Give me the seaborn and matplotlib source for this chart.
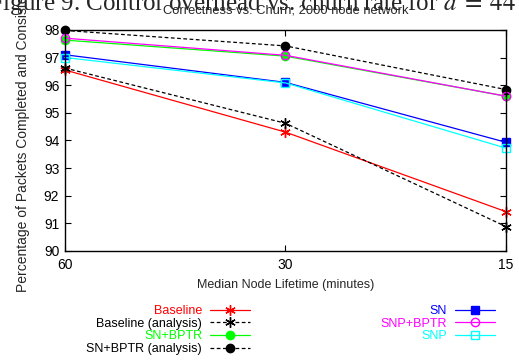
import matplotlib
matplotlib.use("Agg")
import matplotlib.pyplot as plt
import seaborn as sns
import pandas as pd

# data
lifetimes = ['60', '30', '15']

baseline = [96.55, 94.3, 91.42]
baseline_analysis = [96.62, 94.62, 90.88]
sn_bptr = [97.63, 97.05, 95.6]
sn_bptr_analysis = [97.98, 97.42, 95.84]
sn = [97.1, 96.1, 93.93]
snp_bptr = [97.7, 97.08, 95.6]
snp = [97.0, 96.08, 93.72]

sns.set_style("ticks")
plt.rcParams['font.family'] = ['Liberation Sans', 'DejaVu Sans']
plt.rcParams['mathtext.fontset'] = 'stix'

fig = plt.figure(figsize=(5.19, 3.6), dpi=100)
ax = fig.add_axes([0.125, 0.303, 0.85, 0.614])

dash = (0, (3, 2))
star = (6, 2, 0)
series = [
    ('Baseline', baseline, '#ff0000', star, 7.5, '-', None),
    ('Baseline (analysis)', baseline_analysis, 'black', star, 7.5, dash, None),
    ('SN+BPTR', sn_bptr, '#00ff00', 'o', 6, '-', None),
    ('SN+BPTR (analysis)', sn_bptr_analysis, 'black', 'o', 6, dash, None),
    ('SN', sn, '#0000ff', 's', 6, '-', None),
    ('SNP+BPTR', snp_bptr, '#ff00ff', 'o', 6, '-', 'none'),
    ('SNP', snp, '#00ffff', 's', 6, '-', 'none'),
]

for name, vals, col, mk, ms, ls, mfc in series:
    df = pd.DataFrame({'lifetime': lifetimes, 'value': vals})
    kw = {}
    if mfc is not None:
        kw['markerfacecolor'] = mfc
    sns.pointplot(data=df, x='lifetime', y='value', order=lifetimes, color=col,
                  marker=mk, linestyle=ls, linewidth=0.9, markersize=ms,
                  markeredgewidth=1.0, label=name, ax=ax, **kw)

for ln in ax.lines:
    ln.set_clip_on(False)

ax.set_xlim(0, 2)
ax.set_ylim(90, 98)
ax.set_yticks(range(90, 99))
ax.tick_params(direction='in', length=4, width=0.8, labelsize=10, top=True, right=True,
               colors='black')
ax.tick_params(axis='x', pad=5)
ax.tick_params(axis='y', pad=4)
for s in ax.spines.values():
    s.set_visible(True)
    s.set_linewidth(1.0)
    s.set_color('black')

ax.set_xlabel('Median Node Lifetime (minutes)', fontsize=9, labelpad=5)
ax.set_ylabel('Percentage of Packets Completed and Consistent', fontsize=10)
ax.yaxis.set_label_coords(-0.078, 0.51)

# clipped caption from the page above the chart
fig.text(-0.022, 0.972, 'Figure 9. Control overhead vs. churn rate for $d\\;=\\;44$',
         ha='left', va='baseline', fontsize=18, family='Liberation Serif')
fig.text(0.55, 0.97, 'Correctness vs. Churn, 2000 node network', ha='center', va='center',
         fontsize=9.3)

handles, labels = ax.get_legend_handles_labels()
if ax.get_legend():
    ax.get_legend().remove()
colors_left = ['#ff0000', 'black', '#00ff00', 'black']
colors_right = ['#0000ff', '#ff00ff', '#00ffff']
fig.legend(handles[:4], labels[:4], loc='upper right', bbox_to_anchor=(0.493, 0.17),
           markerfirst=False, frameon=False, fontsize=9, handlelength=3.2,
           handletextpad=0.6, labelspacing=0.05, borderpad=0, labelcolor=colors_left)
fig.legend(handles[4:], labels[4:], loc='upper right', bbox_to_anchor=(0.965, 0.17),
           markerfirst=False, frameon=False, fontsize=9, handlelength=3.2,
           handletextpad=0.6, labelspacing=0.05, borderpad=0, labelcolor=colors_right)

fig.savefig('out.png', dpi=100)
